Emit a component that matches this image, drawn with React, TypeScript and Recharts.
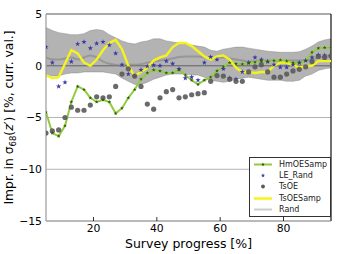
import {
  Area,
  CartesianGrid,
  ComposedChart,
  Legend,
  Line,
  ReferenceLine,
  Scatter,
  XAxis,
  YAxis,
} from 'recharts'

// survey progress in %, one sample every 2 %
const progress = [
  5, 7, 9, 11, 13, 15, 17, 19, 21, 23, 25, 27, 29, 31, 33, 35, 37, 39, 41, 43, 45, 47, 49,
  51, 53, 55, 57, 59, 61, 63, 65, 67, 69, 71, 73, 75, 77, 79, 81, 83, 85, 87, 89, 91, 93, 95,
]

const randLow = [
  -0.9, -1.0, -1.0, -0.8, -0.7, -0.7, -0.6, -0.6, -0.6, -0.6, -0.7, -0.8, -1.2, -1.5, -1.8,
  -1.8, -1.6, -1.3, -1.1, -0.9, -0.8, -0.8, -0.8, -0.9, -0.9, -1.1, -1.4, -1.5, -1.6, -1.5,
  -1.3, -1.2, -1.1, -1.2, -1.3, -1.4, -1.4, -1.4, -1.5, -1.5, -1.4, -1.0, -0.8, -0.45, -0.3,
  -0.2,
]
const randHigh = [
  3.7, 3.4, 3.2, 3.1, 3.0, 3.0, 3.1, 3.4, 3.5, 3.4, 3.0, 2.7, 2.4, 2.2, 2.1, 2.3, 2.4, 2.6,
  2.6, 2.4, 2.3, 2.2, 2.1, 2.0, 1.9, 1.8, 1.5, 1.4, 1.6, 1.7, 1.8, 1.8, 1.7, 1.6, 1.5, 1.4,
  1.35, 1.3, 1.3, 1.3, 1.35, 1.6, 1.9, 2.3, 2.5, 2.6,
]
const randMean = [
  0.8, 0.6, 0.6, 0.7, 0.8, 0.6, 0.8, 1.0, 0.8, 0.4, 0.2, 0.1, 0.0, 0.1, 0.1, 0.15, 0.3, 0.4,
  0.5, 0.6, 0.7, 0.85, 0.9, 0.9, 0.9, 0.8, 0.7, 0.8, 0.8, 0.7, 0.6, 0.5, 0.4, 0.4, 0.5, 0.5,
  0.5, 0.5, 0.5, 0.5, 0.5, 0.5, 0.6, 0.8, 0.9, 1.0,
]
const hmOESamp = [
  -4.5, -6.5, -6.8, -5.8, -3.5, -2.0, -2.3, -3.1, -3.5, -3.3, -3.5, -4.6, -4.1, -3.1, -2.3,
  -1.3, -0.7, -0.4, -0.5, -0.7, -0.7, -0.4, -0.9, -1.4, -1.8, -1.4, -1.1, -0.5, -0.1, 0.3,
  0.2, 0.15, 0.25, 0.35, 0.45, 0.4, 0.5, 0.55, 0.45, 0.3, 0.25, 0.5, 1.3, 1.7, 1.75, 1.75,
]
const leRand = [
  1.8, 0.3, -2.0, -1.6, 0.4, 2.1, 2.3, 1.7, 2.15, 2.3, 2.0, 1.2, 0.1, -0.8, -1.0, -0.4,
  -0.05, 0.05, 0.0, 0.45, 0.2, -0.3, -1.2, -1.1, -1.4, 0.3, 0.85, 0.6, -0.3, -1.2, -1.3,
  -0.6, 0.3, 0.8, 0.6, 0.4, 0.1, -0.15, -0.15, 0.1, 0.3, 0.5, 0.8, 1.05, 1.0, 0.95,
]
const tsOE = [
  -6.5, -6.3, -6.2, -5.0, -4.0, -4.3, -4.3, -3.8, -3.0, -3.1, -3.0, -2.0, -0.8, -0.3, -1.0,
  -2.0, -3.7, -4.2, -3.1, -2.5, -2.3, -3.1, -3.0, -2.8, -2.7, -2.6, -1.5, -0.95, -1.0, -1.3,
  -1.5, -1.5, -0.6, -0.1, 0.1, -0.6, -1.1, -1.1, -0.8, -0.5, -0.35, -0.1, 0.4, 0.9, 0.8, 0.95,
]
const tsOESamp = [
  -0.9, -1.2, -1.1, 0.2, 1.5, 1.2, 0.3, 0.0, 0.6, 1.5, 2.2, 2.5, 1.6, 0.0, -1.0, -0.6, -0.2,
  0.5, 0.8, 1.0, 1.8, 2.2, 2.2, 1.9, 1.4, 0.9, 0.6, 0.9, 1.0, 0.6, -0.2, -0.6, -0.6, -0.7,
  -0.6, -0.6, 0.0, 0.3, 0.3, 0.05, -0.15, -0.05, 0.0, 0.45, 0.45, 0.45,
]

const xTicks = [20, 40, 60, 80]
const yTicks = [-15, -10, -5, 0, 5]

const legendItems = [
  { name: 'HmOESamp', kind: 'hm' },
  { name: 'LE_Rand', kind: 'star' },
  { name: 'TsOE', kind: 'dot' },
  { name: 'TsOESamp', kind: 'yellow' },
  { name: 'Rand', kind: 'rand' },
]

const data = progress.map((x, i) => ({
  x,
  band: [randLow[i], randHigh[i]],
  rand: randMean[i],
  hm: hmOESamp[i],
  le: leRand[i],
  ts: tsOE[i],
  tss: tsOESamp[i],
}))

const YELLOW = '#f4f41c'
const GREEN = '#92cc3c'
const GREEN_MARK = '#2d5a12'
const STAR = '#3a3aa6'
const DOT = '#5a5a5a'

function starPath(cx: number, cy: number, outer: number, inner: number) {
  let d = ''
  for (let k = 0; k < 10; k++) {
    const r = k % 2 === 0 ? outer : inner
    const a = -Math.PI / 2 + (k * Math.PI) / 5
    d += `${k === 0 ? 'M' : 'L'}${(cx + r * Math.cos(a)).toFixed(2)},${(cy + r * Math.sin(a)).toFixed(2)}`
  }
  return d + 'Z'
}

function XTick({ x, y, payload }: any) {
  return (
    <g>
      <line x1={x} x2={x} y1={y - 3} y2={y - 7} stroke="#000" strokeWidth={0.8} />
      <text x={x} y={y} dy={7.5} textAnchor="middle" fontSize={10.8} fill="#000">
        {payload.value}
      </text>
    </g>
  )
}

function YTick({ x, y, payload }: any) {
  const label = String(payload.value).replace('-', '\u2212')
  return (
    <text x={x} y={y} dy={3.9} textAnchor="end" fontSize={10.8} fill="#000">
      {label}
    </text>
  )
}

function YLabel({ viewBox }: any) {
  const cx = 9
  const cy = viewBox.y + viewBox.height / 2
  return (
    <text
      x={cx}
      y={cy}
      dy={4}
      transform={`rotate(-90 ${cx} ${cy})`}
      textAnchor="middle"
      fontSize={12.3}
      fill="#000"
    >
      Impr. in σ<tspan fontSize={8.5} dy={2.5}>68</tspan>
      <tspan dy={-2.5}>(</tspan>
      <tspan fontStyle="italic">z</tspan>′) [%, curr. val.]
    </text>
  )
}

function XLabel({ viewBox }: any) {
  return (
    <text x={viewBox.x + viewBox.width / 2} y={247.5} textAnchor="middle" fontSize={12.5} fill="#000">
      Survey progress [%]
    </text>
  )
}

function LegendIcon({ kind }: { kind: string }) {
  return (
    <svg width={27} height={11}>
      {kind === 'hm' && (
        <>
          <line x1={4} x2={22} y1={5.5} y2={5.5} stroke={GREEN} strokeWidth={2} />
          <path d={starPath(13, 5.5, 1.9, 0.8)} fill={GREEN_MARK} />
        </>
      )}
      {kind === 'star' && <path d={starPath(13, 5.5, 2.2, 0.9)} fill={STAR} />}
      {kind === 'dot' && <circle cx={13} cy={5.5} r={1.9} fill={DOT} />}
      {kind === 'yellow' && <line x1={4} x2={22} y1={5.5} y2={5.5} stroke={YELLOW} strokeWidth={2.5} />}
      {kind === 'rand' && <line x1={4} x2={22} y1={5.5} y2={5.5} stroke="#cccccc" strokeWidth={2} />}
    </svg>
  )
}

function LegendBox() {
  return (
    <div
      style={{
        border: '1px solid #333',
        background: '#fff',
        padding: '1px 0',
        fontSize: 8,
        color: '#222',
        lineHeight: '11.2px',
      }}
    >
      {legendItems.map((item) => (
        <div key={item.name} style={{ display: 'flex', alignItems: 'center', height: 11.2 }}>
          <LegendIcon kind={item.kind} />
          <span style={{ marginLeft: 2 }}>{item.name}</span>
        </div>
      ))}
    </div>
  )
}

function App() {
  return (
    <div
      style={{
        position: 'absolute',
        left: 0,
        top: 0,
        width: 343,
        height: 254,
        background: '#fff',
        fontFamily: '"DejaVu Sans", sans-serif',
      }}
    >
      <ComposedChart
        width={343}
        height={254}
        data={data}
        margin={{ top: 14, right: 12, bottom: 0, left: 0 }}
      >
        <CartesianGrid stroke="#b4b4b4" vertical={false} horizontalValues={yTicks} />
        <XAxis
          dataKey="x"
          type="number"
          domain={[5, 95]}
          ticks={xTicks}
          allowDataOverflow
          height={33}
          axisLine={{ stroke: '#9a9a9a', strokeWidth: 1.2 }}
          tickLine={false}
          tickSize={0}
          tickMargin={3}
          tick={<XTick />}
          label={{ content: <XLabel /> }}
        />
        <YAxis
          type="number"
          domain={[-15, 5]}
          ticks={yTicks}
          allowDataOverflow
          width={46}
          axisLine={{ stroke: '#9a9a9a', strokeWidth: 1.2 }}
          tickLine={false}
          tickSize={0}
          tickMargin={4}
          tick={<YTick />}
          label={{ content: <YLabel /> }}
        />
        <ReferenceLine y={5} stroke="#9a9a9a" strokeWidth={1.5} />
        <ReferenceLine x={95} stroke="#111" strokeWidth={1.2} />
        <Area
          dataKey="band"
          type="linear"
          fill="#808080"
          fillOpacity={0.6}
          stroke="#7a7a7a"
          strokeOpacity={0.5}
          strokeWidth={0.8}
          isAnimationActive={false}
        />
        <ReferenceLine y={0} stroke="#6e6e6e" strokeWidth={1} />
        <Line
          dataKey="rand"
          type="monotone"
          stroke="#808080"
          strokeOpacity={0.55}
          strokeWidth={2}
          dot={false}
          isAnimationActive={false}
        />
        <Line
          dataKey="hm"
          type="linear"
          stroke={GREEN}
          strokeWidth={2}
          dot={(p: any) => (
            <path key={`hm-${p.index}`} d={starPath(p.cx, p.cy, 2, 0.8)} fill={GREEN_MARK} />
          )}
          isAnimationActive={false}
        />
        <Scatter
          dataKey="le"
          fill={STAR}
          shape={(p: any) => <path d={starPath(p.cx, p.cy, 2.8, 1.1)} fill={STAR} />}
          isAnimationActive={false}
        />
        <Scatter
          dataKey="ts"
          fill={DOT}
          shape={(p: any) => <circle cx={p.cx} cy={p.cy} r={2.6} fill={DOT} fillOpacity={0.9} />}
          isAnimationActive={false}
        />
        <Line
          dataKey="tss"
          type="linear"
          stroke={YELLOW}
          strokeWidth={2.4}
          dot={false}
          isAnimationActive={false}
        />
        <Legend
          layout="vertical"
          align="center"
          verticalAlign="middle"
          content={<LegendBox />}
          wrapperStyle={{ left: 249, top: 157, width: 82 }}
        />
      </ComposedChart>
    </div>
  )
}

export default App
